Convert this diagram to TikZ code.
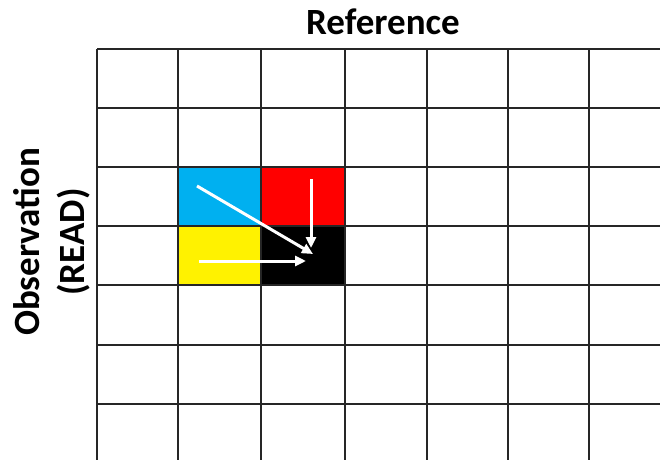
\documentclass[tikz,border=0pt]{standalone}
\usepackage{fontspec}
\setmainfont{Carlito}
\usepackage{tikz}
\usetikzlibrary{arrows.meta}
\definecolor{celeste}{HTML}{00B0F0}

\begin{document}
\begin{tikzpicture}[x=1pt, y=-1pt, every node/.style={font=\bfseries\fontsize{37}{45}\selectfont},
    seta/.style={white, line width=3pt, -{Triangle[length=11pt, width=10pt]}}]
    \useasboundingbox (0,0) rectangle (660,460);
    % Células coloridas
    \fill[celeste] (178,167) rectangle (261,226);
    \fill[red] (261,167) rectangle (345,226);
    \fill[yellow] (178,226) rectangle (261,285);
    \fill[black] (261,226) rectangle (345,285);

    % Grade (linhas verticais)
    \draw[line width=2pt, black!85] (97,49) -- (97,460);
    \draw[line width=2pt, black!85] (178,49) -- (178,460);
    \draw[line width=2pt, black!85] (261,49) -- (261,460);
    \draw[line width=2pt, black!85] (345,49) -- (345,460);
    \draw[line width=2pt, black!85] (427,49) -- (427,460);
    \draw[line width=2pt, black!85] (508,49) -- (508,460);
    \draw[line width=2pt, black!85] (589,49) -- (589,460);
    % Grade (linhas horizontais)
    \draw[line width=2pt, black!85] (97,49) -- (660,49);
    \draw[line width=2pt, black!85] (97,108) -- (660,108);
    \draw[line width=2pt, black!85] (97,167) -- (660,167);
    \draw[line width=2pt, black!85] (97,226) -- (660,226);
    \draw[line width=2pt, black!85] (97,285) -- (660,285);
    \draw[line width=2pt, black!85] (97,345) -- (660,345);
    \draw[line width=2pt, black!85] (97,404) -- (660,404);

    % Rótulos dos eixos
    \node (ref) at (383,22) {Reference};
    \node[rotate=90, align=center] (obs) at (52,242) {Observation\\(READ)};

    % Setas
    \coordinate (azul) at (197,186);
    \coordinate (verm) at (311,179);
    \coordinate (amar) at (199,261);
    \coordinate (diag) at (313,254);
    \coordinate (baixo) at (311,248);
    \coordinate (dir) at (306,261);
    \draw[seta] (azul) -- (diag);
    \draw[seta] (verm) -- (baixo);
    \draw[seta] (amar) -- (dir);
\end{tikzpicture}
\end{document}
